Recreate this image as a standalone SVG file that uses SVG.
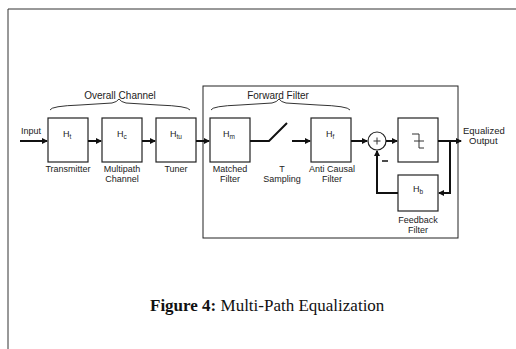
<svg xmlns="http://www.w3.org/2000/svg" width="516" height="349" viewBox="0 0 516 349">
<defs>
<marker id="ah" markerWidth="6" markerHeight="6" refX="5" refY="3" orient="auto" markerUnits="userSpaceOnUse">
<path d="M0,0 L6,3 L0,6 z" fill="#111"/>
</marker>
</defs>
<style>
.blk{fill:#fff;stroke:#222;stroke-width:1.2}
.ln{fill:none;stroke:#111;stroke-width:2}
.thin{fill:none;stroke:#333;stroke-width:1}
.t{font-family:"Liberation Sans",Arial,sans-serif;font-size:9px;fill:#222;text-anchor:middle}
.h{font-family:"Liberation Sans",Arial,sans-serif;font-size:10px;fill:#222;text-anchor:middle}
.s{font-family:"Liberation Sans",Arial,sans-serif;font-size:9px;fill:#222}
.o{font-family:"Liberation Sans",Arial,sans-serif;font-size:9.5px;fill:#222}
.cap{font-family:"Liberation Serif","Times New Roman",serif;font-size:17px;fill:#111}
</style>
<rect width="516" height="349" fill="#fff"/>
<g id="frame">
<path class="thin" d="M8,349 V9 H516" stroke-width="1.5"/>
</g>
<g id="forward-filter">
<rect x="203" y="86" width="255" height="152" fill="none" stroke="#222" stroke-width="1"/>
<text class="h" x="278" y="99">Forward Filter</text>
<path class="thin" d="M211,110 Q212,106 240,105 L272,103 Q277,102 279,99 Q281,102 286,103 L318,105 Q348,106 350,110"/>
</g>
<g id="overall-channel">
<text class="h" x="120" y="99">Overall Channel</text>
<path class="thin" d="M50,110 Q51,106 80,105 L112,103 Q117,102 119,99 Q121,102 126,103 L158,105 Q188,106 190,110"/>
</g>
<g id="input"><text class="t" x="31" y="134">Input</text></g>
<g id="transmitter">
<rect class="blk" x="48" y="118" width="40" height="44"/>
<text class="s" x="63" y="137">H<tspan font-size="6.5" dy="2">t</tspan></text>
<text class="t" x="68" y="172">Transmitter</text>
</g>
<g id="channel">
<rect class="blk" x="102" y="118" width="40" height="44"/>
<text class="s" x="117" y="137">H<tspan font-size="6.5" dy="2">c</tspan></text>
<text class="t" x="122" y="172">Multipath</text>
<text class="t" x="122" y="182">Channel</text>
</g>
<g id="tuner">
<rect class="blk" x="156" y="118" width="40" height="44"/>
<text class="s" x="170" y="137">H<tspan font-size="6.5" dy="2">tu</tspan></text>
<text class="t" x="176" y="172">Tuner</text>
</g>
<g id="matched">
<rect class="blk" x="210" y="118" width="40" height="44"/>
<text class="s" x="223" y="137">H<tspan font-size="6.5" dy="2">m</tspan></text>
<text class="t" x="230" y="172">Matched</text>
<text class="t" x="230" y="182">Filter</text>
</g>
<g id="sampler">
<text class="t" x="282" y="172">T</text>
<text class="t" x="282" y="182">Sampling</text>
</g>
<g id="anticausal">
<rect class="blk" x="311" y="118" width="40" height="44"/>
<text class="s" x="326" y="137">H<tspan font-size="6.5" dy="2">f</tspan></text>
<text class="t" x="332" y="172">Anti Causal</text>
<text class="t" x="332" y="182">Filter</text>
</g>
<g id="summer">
<circle cx="377" cy="141" r="9" fill="#fff" stroke="#222" stroke-width="1.2"/>
<path class="thin" d="M373.5,141 H380.5 M377,137.5 V144.5"/>
<path d="M382,161 H388" stroke="#111" stroke-width="1.5"/>
</g>
<g id="decision">
<rect class="blk" x="398" y="118" width="40" height="44"/>
<path class="thin" d="M412,134 H419 M414,141 H424" stroke-width="1.3"/>
<path class="thin" d="M419,134 V148 H424" stroke-width="1.3"/>
</g>
<g id="feedback">
<rect class="blk" x="398" y="175" width="40" height="36"/>
<text class="s" x="413" y="192">H<tspan font-size="6.5" dy="2">b</tspan></text>
<text class="t" x="418" y="223">Feedback</text>
<text class="t" x="418" y="233">Filter</text>
</g>
<g id="output">
<text class="o" x="463" y="134">Equalized</text>
<text class="o" x="469" y="144">Output</text>
</g>
<g id="connectors">
<path class="ln" d="M20,141 H47" marker-end="url(#ah)"/>
<path class="ln" d="M88,141 H101" marker-end="url(#ah)"/>
<path class="ln" d="M142,141 H155" marker-end="url(#ah)"/>
<path class="ln" d="M196,141 H209" marker-end="url(#ah)"/>
<path class="ln" d="M250,141 H269 L287,123"/>
<path class="ln" d="M292,141 H310" marker-end="url(#ah)"/>
<path class="ln" d="M351,141 H367" marker-end="url(#ah)"/>
<path class="ln" d="M386,141 H397" marker-end="url(#ah)"/>
<path class="ln" d="M438,141 H461" marker-end="url(#ah)"/>
<path class="ln" d="M450,141 V193 H439" marker-end="url(#ah)"/>
<path class="ln" d="M398,193 H377 V151" marker-end="url(#ah)"/>
</g>
<g id="caption">
<text class="cap" x="150" y="311"><tspan font-weight="bold">Figure 4:</tspan>  Multi-Path Equalization</text>
</g>
</svg>
